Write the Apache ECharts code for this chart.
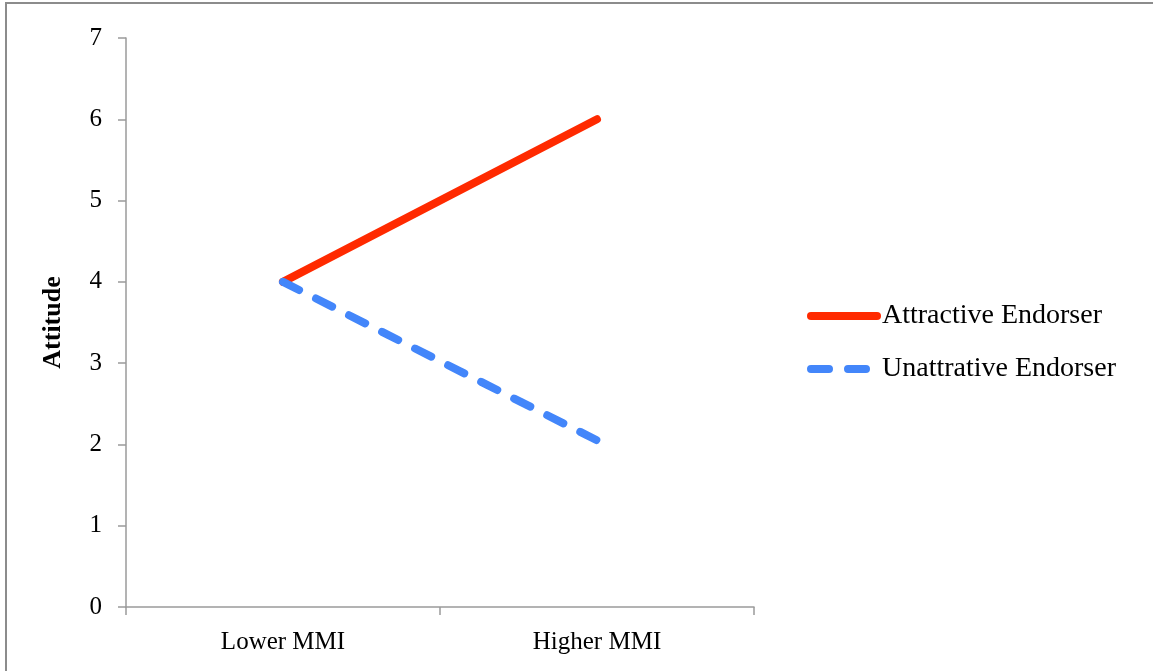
<!DOCTYPE html>
<html>
<head>
<meta charset="utf-8">
<script src="https://cdn.jsdelivr.net/npm/echarts@6/dist/echarts.min.js"></script>
<style>
  html, body { margin: 0; padding: 0; background: #fff; }
  #chart { width: 1153px; height: 671px; }
</style>
</head>
<body>
<div id="chart"></div>
<script>
// Attitude by MMI level for two endorser types
const categories = ['Lower MMI', 'Higher MMI'];
const attractive = [4, 6];
const unattractive = [4, 2.05];
const yTicks = [0, 1, 2, 3, 4, 5, 6, 7];

const serif = '"Liberation Serif", "DejaVu Serif", serif';
const chart = echarts.init(document.getElementById('chart'));

chart.setOption({
  animation: false,
  backgroundColor: '#fff',
  graphic: [{
    type: 'rect',
    shape: { x: 6, y: 3, width: 1200, height: 720 },
    style: { fill: 'none', stroke: '#8c8c8c', lineWidth: 2 },
    silent: true
  }],
  grid: { left: 126, right: 399, top: 38, bottom: 64 },
  legend: {
    orient: 'vertical',
    left: 802,
    top: 297,
    itemWidth: 66,
    itemHeight: 8,
    itemGap: 25,
    itemStyle: { opacity: 0 },
    lineStyle: { width: 8, cap: 'round' },
    textStyle: { fontFamily: serif, fontSize: 28, color: '#000' },
    data: ['Attractive Endorser', 'Unattrative Endorser']
  },
  xAxis: {
    type: 'category',
    data: categories,
    boundaryGap: true,
    axisLine: { lineStyle: { color: '#9a9a9a', width: 1.5 } },
    axisTick: { show: true, length: 8, inside: false, lineStyle: { color: '#9a9a9a', width: 1.5 } },
    axisLabel: { fontFamily: serif, fontSize: 25, color: '#000', margin: 23 }
  },
  yAxis: {
    type: 'value',
    min: yTicks[0],
    max: yTicks[yTicks.length - 1],
    interval: 1,
    name: 'Attitude',
    nameLocation: 'middle',
    nameGap: 60,
    nameRotate: 90,
    nameTextStyle: { fontFamily: serif, fontSize: 26, fontWeight: 'bold', color: '#000' },
    axisLine: { show: true, lineStyle: { color: '#9a9a9a', width: 1.5 } },
    axisTick: { show: true, length: 8, lineStyle: { color: '#9a9a9a', width: 1.5 } },
    splitLine: { show: false },
    axisLabel: { fontFamily: serif, fontSize: 25, color: '#000', margin: 24 }
  },
  series: [
    {
      name: 'Attractive Endorser',
      type: 'line',
      data: attractive,
      symbol: 'none',
      color: '#ff2a00',
      lineStyle: { color: '#ff2a00', width: 8, cap: 'round' }
    },
    {
      name: 'Unattrative Endorser',
      type: 'line',
      data: unattractive,
      symbol: 'none',
      color: '#4386fa',
      lineStyle: { color: '#4386fa', width: 8, type: [18, 19], cap: 'round' }
    }
  ]
});
</script>
</body>
</html>
